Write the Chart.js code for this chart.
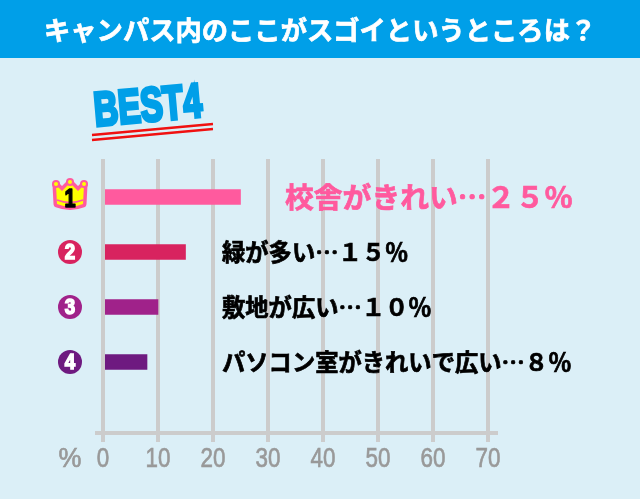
<!DOCTYPE html>
<html>
<head>
<meta charset="utf-8">
<script src="https://cdn.jsdelivr.net/npm/chart.js@4"></script>
<style>
html, body { margin: 0; padding: 0; background: #dbeff7; overflow: hidden; }
canvas { display: block; }
</style>
</head>
<body>
<canvas id="best-chart" width="640" height="499"></canvas>
<script>
var titleText = 'キャンパス内のここがスゴイというところは？';
var ranks = [1, 2, 3, 4];
var percents = [25, 15, 10, 8];
var answers = ['校舎がきれい…２５％', '緑が多い…１５％', '敷地が広い…１０％', 'パソコン室がきれいで広い…８％'];
var barColors = ['#ff5a9e', '#d8235f', '#a0228a', '#6e1a80'];
var tickValues = [0, 10, 20, 30, 40, 50, 60, 70];

var gridGray = '#cccccc';
var cjkFont = '"Noto Sans CJK JP", sans-serif';
var latinFont = '"Liberation Sans", sans-serif';

// squeezed text, no condensed font is installed
function narrowText(ctx, text, x, y, squeeze, strokeWidth) {
    ctx.save();
    ctx.translate(x, y);
    ctx.scale(squeeze, 1);
    ctx.fillText(text, 0, 0);
    if (strokeWidth) {
        ctx.lineWidth = strokeWidth;
        ctx.strokeText(text, 0, 0);
    }
    ctx.restore();
}

function boldText(ctx, text, x, y, color) {
    ctx.fillStyle = color;
    ctx.strokeStyle = color;
    ctx.lineWidth = 0.7;
    ctx.fillText(text, x, y);
    ctx.strokeText(text, x, y);
}

// crown for first place, the others get a plain circle
function drawCrown(ctx, cx, cy) {
    ctx.save();
    ctx.translate(cx, cy);
    ctx.beginPath();
    ctx.moveTo(-14, -10);
    ctx.lineTo(-8, -4);
    ctx.lineTo(0, -12);
    ctx.lineTo(8, -4);
    ctx.lineTo(14, -10);
    ctx.lineTo(13, 9);
    ctx.quadraticCurveTo(0, 14, -13, 9);
    ctx.closePath();
    ctx.lineJoin = 'round';
    ctx.lineWidth = 7;
    ctx.strokeStyle = barColors[0];
    ctx.stroke();
    ctx.fillStyle = '#ffff00';
    ctx.fill();
    [[-14, -11], [0, -13], [14, -11]].forEach(function (p) {
        ctx.fillStyle = barColors[0];
        ctx.beginPath();
        ctx.arc(p[0], p[1], 4, 0, Math.PI * 2);
        ctx.fill();
        ctx.fillStyle = '#ffff00';
        ctx.beginPath();
        ctx.arc(p[0], p[1], 2, 0, Math.PI * 2);
        ctx.fill();
    });
    ctx.strokeStyle = barColors[0];
    ctx.lineWidth = 1.5;
    ctx.beginPath();
    ctx.moveTo(-13, 5);
    ctx.quadraticCurveTo(0, 10, 13, 5);
    ctx.stroke();
    ctx.fillStyle = '#000';
    ctx.strokeStyle = '#000';
    ctx.font = 'bold 25px ' + latinFont;
    ctx.textAlign = 'center';
    ctx.textBaseline = 'middle';
    narrowText(ctx, '1', 0, 5, 0.8, 1.5);
    ctx.restore();
}

var pagePlugin = {
    id: 'pagePlugin',
    beforeDraw: function (chart) {
        var ctx = chart.ctx;
        ctx.save();
        ctx.fillStyle = '#dbeff7';
        ctx.fillRect(0, 0, 640, 499);
        ctx.fillStyle = '#009fe8';
        ctx.fillRect(0, 0, 640, 58);

        ctx.font = 'bold 26.3px ' + cjkFont;
        ctx.textAlign = 'left';
        ctx.textBaseline = 'middle';
        boldText(ctx, titleText, 44, 30, '#ffffff');

        // BEST4 logo
        ctx.save();
        ctx.translate(148, 108);
        ctx.rotate(-5 * Math.PI / 180);
        ctx.font = 'bold 48px ' + latinFont;
        ctx.textAlign = 'center';
        ctx.fillStyle = '#009fe8';
        ctx.strokeStyle = '#009fe8';
        narrowText(ctx, 'BEST4', 0, 0, 0.7, 3.5);
        ctx.restore();

        ctx.strokeStyle = '#f01010';
        ctx.lineWidth = 2.5;
        ctx.beginPath();
        ctx.moveTo(92, 135);
        ctx.lineTo(213, 124);
        ctx.moveTo(92, 140);
        ctx.lineTo(213, 129);
        ctx.stroke();
        ctx.restore();
    },
    afterDatasetsDraw: function (chart) {
        var ctx = chart.ctx;
        var xs = chart.scales.x;
        var ys = chart.scales.y;
        var zero = xs.getPixelForValue(0);

        // zero line sits over the bar starts
        ctx.save();
        ctx.strokeStyle = gridGray;
        ctx.lineWidth = 4;
        ctx.beginPath();
        ctx.moveTo(zero, ys.top);
        ctx.lineTo(zero, ys.bottom);
        ctx.stroke();

        ctx.textBaseline = 'middle';
        ctx.textAlign = 'left';
        answers.forEach(function (text, i) {
            var y = ys.getPixelForValue(ranks[i]);
            if (i === 0) {
                ctx.font = 'bold 28.8px ' + cjkFont;
                boldText(ctx, text, 285, y, barColors[0]);
            } else {
                ctx.font = 'bold 23.3px ' + cjkFont;
                boldText(ctx, text, 222, y, '#000000');
            }
        });

        ranks.forEach(function (rank, i) {
            var y = ys.getPixelForValue(rank);
            if (i === 0) {
                drawCrown(ctx, 70, y - 2);
                return;
            }
            ctx.fillStyle = barColors[i];
            ctx.beginPath();
            ctx.arc(70, y, 12, 0, Math.PI * 2);
            ctx.fill();
            ctx.fillStyle = '#fff';
            ctx.strokeStyle = '#fff';
            ctx.font = 'bold 22px ' + latinFont;
            ctx.textAlign = 'center';
            narrowText(ctx, String(rank), 70, y + 1, 0.85, 1.5);
            ctx.textAlign = 'left';
        });

        // tick labels, squeezed to the narrow look of the original
        ctx.fillStyle = '#999999';
        ctx.strokeStyle = '#999999';
        ctx.font = '28px ' + latinFont;
        ctx.textAlign = 'center';
        tickValues.forEach(function (v) {
            narrowText(ctx, String(v), xs.getPixelForValue(v), 459, 0.8, 0.7);
        });
        narrowText(ctx, '%', 70, 459, 0.92, 0.7);
        ctx.restore();
    }
};

new Chart(document.getElementById('best-chart').getContext('2d'), {
    type: 'bar',
    data: {
        datasets: [{
            data: ranks.map(function (rank, i) { return { x: percents[i], y: rank }; }),
            backgroundColor: barColors,
            barThickness: 15
        }]
    },
    options: {
        indexAxis: 'y',
        responsive: false,
        animation: false,
        devicePixelRatio: 1,
        layout: { padding: { left: 97, right: 144, top: 159, bottom: 0 } },
        scales: {
            x: {
                type: 'linear',
                position: 'bottom',
                min: -1.09,
                max: 71.45,
                afterBuildTicks: function (scale) {
                    scale.ticks = tickValues.map(function (v) { return { value: v }; });
                },
                afterFit: function (scale) { scale.height = 66; },
                grid: { color: gridGray, lineWidth: 4, tickLength: 9, tickColor: gridGray },
                border: { display: true, color: gridGray, width: 4 },
                ticks: { display: false }
            },
            y: {
                type: 'linear',
                display: false,
                reverse: true,
                offset: false,
                min: 0.31,
                max: 5.29
            }
        },
        plugins: {
            legend: { display: false },
            tooltip: { enabled: false }
        }
    },
    plugins: [pagePlugin]
});
</script>
</body>
</html>
